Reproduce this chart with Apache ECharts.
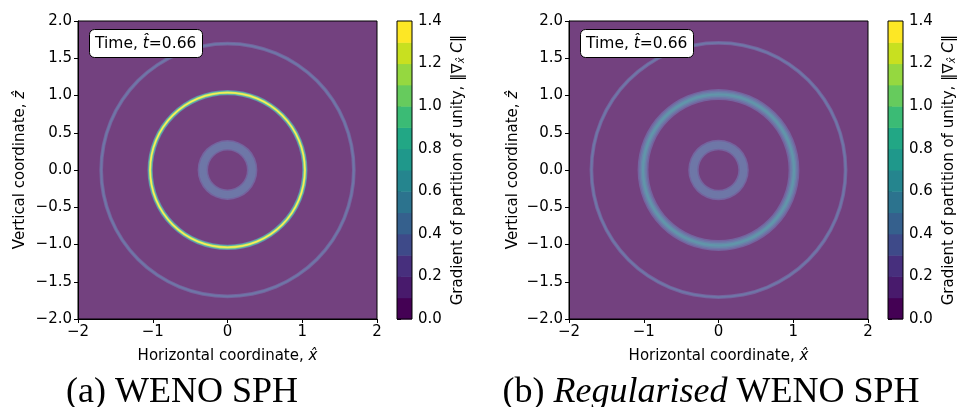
<!DOCTYPE html>
<html>
<head>
<meta charset="utf-8">
<script src="https://cdn.jsdelivr.net/npm/echarts@6/dist/echarts.min.js"></script>
<style>
  html, body { margin: 0; padding: 0; background: #fff; }
  #chart { width: 957px; height: 407px; }
</style>
</head>
<body>
<div id="chart"></div>
<script>
// ---- colour scale: contour levels and their viridis band colours ----
const levels = [0.0, 0.1, 0.2, 0.3, 0.4, 0.5, 0.6, 0.7, 0.8, 0.9, 1.0, 1.1, 1.2, 1.3, 1.4];
const bandColors = ['#440154', '#481a6c', '#472f7d', '#3e4a89', '#35608d', '#2c738e', '#25858e',
                    '#1f988b', '#22a785', '#3bbb75', '#66cb5d', '#95d840', '#c8e020', '#fde725'];
const colorbarTicks = [0.0, 0.2, 0.4, 0.6, 0.8, 1.0, 1.2, 1.4];

// ---- axes ----
const xTicks = [-2, -1, 0, 1, 2];
const zTicks = [-2.0, -1.5, -1.0, -0.5, 0.0, 0.5, 1.0, 1.5, 2.0];

// ---- field: ambient level and concentric rings about the origin ----
const ringCentre = [0, 0];
const ambientValue = 0.05;
// each ring: [radius, radial width, gradient magnitude]
const ringsWeno = [
  [1.69, 0.050, 0.25],
  [1.69, 0.025, 0.35],
  [0.33, 0.140, 0.22],
  [0.33, 0.100, 0.30],
  [0.33, 0.055, 0.36],
  [1.035, 0.070, 0.45],
  [1.035, 0.048, 0.85],
  [1.035, 0.028, 1.20],
  [1.035, 0.013, 1.35]
];
const ringsRegularised = [
  [1.70, 0.050, 0.25],
  [1.70, 0.025, 0.35],
  [0.335, 0.140, 0.22],
  [0.335, 0.100, 0.30],
  [0.335, 0.055, 0.36],
  [1.01, 0.145, 0.22],
  [1.01, 0.105, 0.32],
  [1.01, 0.065, 0.45],
  [1.01, 0.030, 0.55]
];
const timeValue = 0.66;

// ---- layout (px) ----
const FONT = 'DejaVu Sans';
const panels = [
  { plot: { left: 78, top: 21, width: 299, height: 298 }, bar: { left: 397, top: 21, width: 15, height: 298 },
    rings: ringsWeno, captionX: 182 },
  { plot: { left: 569, top: 21, width: 299, height: 298 }, bar: { left: 888, top: 21, width: 15, height: 298 },
    rings: ringsRegularised, captionX: 711 }
];

const step = levels[1] - levels[0];
function bandColor(v) {
  const i = Math.max(0, Math.min(bandColors.length - 1, Math.floor(v / step + 1e-9)));
  return bandColors[i];
}
// the mesh is laid down at partial opacity over the white page
function washed(hex, alpha) {
  const n = parseInt(hex.slice(1), 16);
  const ch = [(n >> 16) & 255, (n >> 8) & 255, n & 255].map(c => Math.round(alpha * c + (1 - alpha) * 255));
  return 'rgb(' + ch.join(',') + ')';
}
const MESH_ALPHA = 0.75;
const minus = s => String(s).replace('-', '\u2212');

const labelStyle = { fontFamily: FONT, fontSize: 15, color: '#000' };
const nameStyle = {
  fontFamily: FONT, fontSize: 15, color: '#000',
  rich: {
    it: { fontFamily: FONT, fontSize: 15, fontStyle: 'italic', color: '#000' },
    sub: { fontFamily: FONT, fontSize: 10, fontStyle: 'italic', color: '#000', verticalAlign: 'bottom', padding: [6, 0, 0, 0] }
  }
};
// grids are placed exactly; labels may sit at the canvas edge
const gridBase = { show: true, borderColor: '#000', borderWidth: 1, containLabel: false, outerBoundsMode: 'none' };

const grids = [], xAxes = [], yAxes = [], series = [], titles = [], graphics = [];

panels.forEach((p, k) => {
  // field panel
  const gPlot = grids.length;
  grids.push(Object.assign({}, gridBase,
    { backgroundColor: washed(bandColor(ambientValue), MESH_ALPHA) }, p.plot));
  const xi = xAxes.length;
  xAxes.push({
    gridIndex: gPlot, type: 'value', min: xTicks[0], max: xTicks[xTicks.length - 1], interval: xTicks[1] - xTicks[0],
    splitLine: { show: false }, axisLine: { show: true, onZero: false, lineStyle: { color: '#000', width: 1 } },
    axisTick: { show: true, length: 4, lineStyle: { color: '#000' } },
    axisLabel: Object.assign({ margin: 6, formatter: v => minus(v) }, labelStyle),
    name: 'Horizontal coordinate, {it|x\u0302}', nameLocation: 'middle', nameGap: 30, nameTextStyle: nameStyle
  });
  const yi = yAxes.length;
  yAxes.push({
    gridIndex: gPlot, type: 'value', min: zTicks[0], max: zTicks[zTicks.length - 1], interval: zTicks[1] - zTicks[0],
    splitLine: { show: false }, axisLine: { show: true, onZero: false, lineStyle: { color: '#000', width: 1 } },
    axisTick: { show: true, length: 4, lineStyle: { color: '#000' } },
    axisLabel: Object.assign({ margin: 6, formatter: v => minus(v.toFixed(1)) }, labelStyle),
    name: 'Vertical coordinate, {it|z\u0302}', nameLocation: 'middle', nameGap: k === 0 ? 50 : 48, nameRotate: 90,
    nameTextStyle: nameStyle
  });
  series.push({
    type: 'custom', coordinateSystem: 'cartesian2d', xAxisIndex: xi, yAxisIndex: yi,
    data: p.rings, silent: true,
    encode: { x: 0, y: 0 },
    renderItem(params, api) {
      const c = api.coord(ringCentre);
      const r = api.size([api.value(0), 0])[0];
      const w = api.size([api.value(1), 0])[0];
      return {
        type: 'ring',
        shape: { cx: c[0], cy: c[1], r: r + w / 2, r0: Math.max(0, r - w / 2) },
        style: { fill: washed(bandColor(api.value(2)), MESH_ALPHA) }
      };
    }
  });

  // colour bar
  const gBar = grids.length;
  grids.push(Object.assign({}, gridBase, { z: 5 }, p.bar));
  const bxi = xAxes.length;
  xAxes.push({ gridIndex: gBar, type: 'value', min: 0, max: 1, show: false });
  const byi = yAxes.length;
  yAxes.push({
    gridIndex: gBar, type: 'value', position: 'right',
    min: levels[0], max: levels[levels.length - 1], interval: colorbarTicks[1] - colorbarTicks[0],
    splitLine: { show: false }, axisLine: { show: false },
    axisTick: { show: true, length: 4, lineStyle: { color: '#000' } },
    axisLabel: Object.assign({ margin: 6, formatter: v => v.toFixed(1) }, labelStyle),
    name: 'Gradient of partition of unity, \u2016\u2207{sub|x\u0302} {it|C}\u2016',
    nameLocation: 'middle', nameGap: 38, nameRotate: 90, nameTextStyle: nameStyle
  });
  series.push({
    type: 'custom', coordinateSystem: 'cartesian2d', xAxisIndex: bxi, yAxisIndex: byi, silent: true,
    data: levels.slice(0, -1).map((lo, i) => [lo, levels[i + 1], i]),
    encode: { x: 0, y: [0, 1] },
    renderItem(params, api) {
      const a = api.coord([0, api.value(0)]);
      const b = api.coord([1, api.value(1)]);
      return {
        type: 'rect',
        shape: { x: a[0], y: b[1], width: b[0] - a[0], height: a[1] - b[1] + 0.5 },
        style: { fill: bandColors[api.value(2)] }
      };
    }
  });

  // time stamp
  titles.push({
    text: 'Time, {it|t\u0302}=' + timeValue.toFixed(2),
    left: p.plot.left + 11, top: p.plot.top + 8,
    padding: [6, 6, 5, 6], backgroundColor: '#fff', borderColor: '#000', borderWidth: 1, borderRadius: 5,
    textStyle: { fontFamily: FONT, fontSize: 15.5, lineHeight: 18, fontWeight: 'normal', color: '#000',
      rich: { it: { fontFamily: FONT, fontSize: 15.5, lineHeight: 18, fontStyle: 'italic', color: '#000' } } }
  });

  // sub-figure caption
  graphics.push({
    type: 'text', x: p.captionX, y: 393, silent: true,
    style: {
      text: k === 0 ? '(a) WENO SPH' : '(b) {it|Regularised} WENO SPH',
      font: '36px "Liberation Serif"', fill: '#000', align: 'center', verticalAlign: 'middle',
      rich: { it: { font: 'italic 36px "Liberation Serif"', fill: '#000' } }
    }
  });
});

const chart = echarts.init(document.getElementById('chart'), null, { renderer: 'canvas' });
chart.setOption({
  animation: false,
  backgroundColor: '#fff',
  title: titles,
  grid: grids,
  xAxis: xAxes,
  yAxis: yAxes,
  series: series,
  graphic: graphics
});
</script>
</body>
</html>
